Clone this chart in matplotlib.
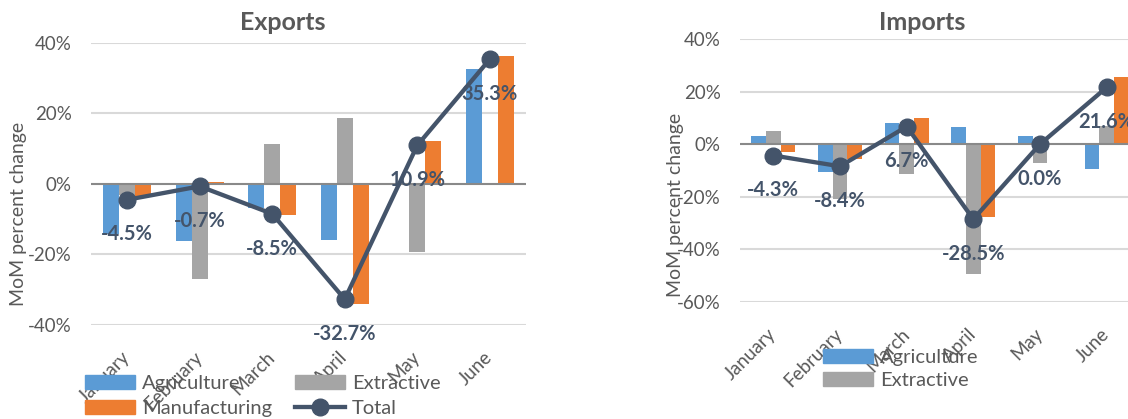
import matplotlib
matplotlib.use("Agg")
import matplotlib.pyplot as plt
import numpy as np
from matplotlib.patches import Patch
from matplotlib.lines import Line2D

plt.rcParams['font.family'] = ['Lato', 'DejaVu Sans']

# data (MoM percent change)
months = ['January', 'February', 'March', 'April', 'May', 'June']

exp_agri = [-14.2, -16.3, -6.9, -15.8, 0.0, 32.6]
exp_extr = [-3.3, -27.0, 11.3, 18.7, -19.4, 0.0]
exp_manu = [-3.8, 0.5, -8.7, -34.1, 12.2, 36.1]
exp_total = [-4.5, -0.7, -8.5, -32.7, 10.9, 35.3]

imp_agri = [3.3, -10.6, 8.1, 6.5, 3.0, -9.6]
imp_extr = [5.2, -20.9, -11.4, -49.2, -7.0, 7.0]
imp_manu = [-3.0, -5.7, 9.9, -27.5, 0.3, 25.6]
imp_total = [-4.3, -8.4, 6.7, -28.5, 0.0, 21.6]

exp_yticks = [-40, -20, 0, 20, 40]
imp_yticks = [-60, -40, -20, 0, 20, 40]

C_AGRI = '#5B9BD5'
C_EXTR = '#A5A5A5'
C_MANU = '#ED7D31'
C_TOT = '#44546A'
C_TXT = '#595959'

W, H = 1128, 419
fig = plt.figure(figsize=(W / 100, H / 100), dpi=100)


def px_axes(x0, y0, x1, y1):
    # pixel box (top-left origin) -> figure axes
    return fig.add_axes([x0 / W, 1 - y1 / H, (x1 - x0) / W, (y1 - y0) / H])


def draw_panel(ax, agri, extr, manu, total, yticks):
    x = np.arange(len(months))
    w = 0.22
    ax.bar(x - w, agri, w, color=C_AGRI, zorder=2)
    ax.bar(x, extr, w, color=C_EXTR, zorder=2)
    ax.bar(x + w, manu, w, color=C_MANU, zorder=2)
    ax.plot(x, total, color=C_TOT, lw=3.1, marker='o', ms=12, zorder=4)
    for i, v in enumerate(total):
        ax.annotate(f'{v:.1f}%', (i, v), xytext=(0, -25), textcoords='offset points',
                    ha='center', va='center', fontsize=14.5, fontweight='bold',
                    color=C_TOT, zorder=6)
    ax.set_xlim(-0.5, len(months) - 0.5)
    ax.set_ylim(yticks[0], yticks[-1])
    ax.set_yticks(yticks)
    ax.set_yticklabels([f'{t}%' for t in yticks])
    for t in yticks:
        if t != 0:
            ax.axhline(t, color='#D9D9D9', lw=1.5, zorder=0.5)
    ax.axhline(0, color='#898989', lw=1.5, zorder=3)
    ax.set_xticks(x)
    ax.set_xticklabels(months, rotation=45, ha='right', va='center',
                       rotation_mode='anchor')
    ax.tick_params(axis='y', length=0, pad=14, labelsize=13.5, labelcolor=C_TXT)
    ax.tick_params(axis='x', length=0, pad=21, labelsize=13.5, labelcolor=C_TXT)
    for s in ax.spines.values():
        s.set_visible(False)
    ax.set_facecolor('none')


ax1 = px_axes(91, 42.7, 526, 325)
draw_panel(ax1, exp_agri, exp_extr, exp_manu, exp_total, exp_yticks)
fig.text(283 / W, 1 - 23 / H, 'Exports', ha='center', va='center',
         fontsize=18, fontweight='bold', color=C_TXT)
fig.text(19 / W, 1 - 214 / H, 'MoM percent change', rotation=90, ha='center',
         va='center', fontsize=14, color=C_TXT)

ax2 = px_axes(740, 39, 1140, 302)
draw_panel(ax2, imp_agri, imp_extr, imp_manu, imp_total, imp_yticks)
fig.text(922 / W, 1 - 22 / H, 'Imports', ha='center', va='center',
         fontsize=18, fontweight='bold', color=C_TXT)
fig.text(675 / W, 1 - 205 / H, 'MoM percent change', rotation=90, ha='center',
         va='center', fontsize=14, color=C_TXT)

h_agri = Patch(color=C_AGRI)
h_extr = Patch(color=C_EXTR)
h_manu = Patch(color=C_MANU)
h_tot = Line2D([], [], color=C_TOT, lw=3.1, marker='o', ms=12)

leg1 = fig.legend([h_agri, h_manu, h_extr, h_tot],
                  ['Agriculture', 'Manufacturing', 'Extractive', 'Total'],
                  ncol=2, loc='upper left', bbox_to_anchor=(85 / W, 1 - 375 / H),
                  frameon=False, fontsize=14.5, labelcolor=C_TXT,
                  handlelength=2.5, handleheight=0.65, handletextpad=0.35,
                  columnspacing=1.1, labelspacing=0.4, borderpad=0, borderaxespad=0)
leg1.set_zorder(10)

leg2 = fig.legend([h_agri, h_extr], ['Agriculture', 'Extractive'],
                  ncol=1, loc='upper left', bbox_to_anchor=(823 / W, 1 - 349 / H),
                  frameon=False, fontsize=14.5, labelcolor=C_TXT,
                  handlelength=2.5, handleheight=0.65, handletextpad=0.35,
                  labelspacing=0.3, borderpad=0, borderaxespad=0)
leg2.set_zorder(10)

fig.savefig('out.png', dpi=100)
